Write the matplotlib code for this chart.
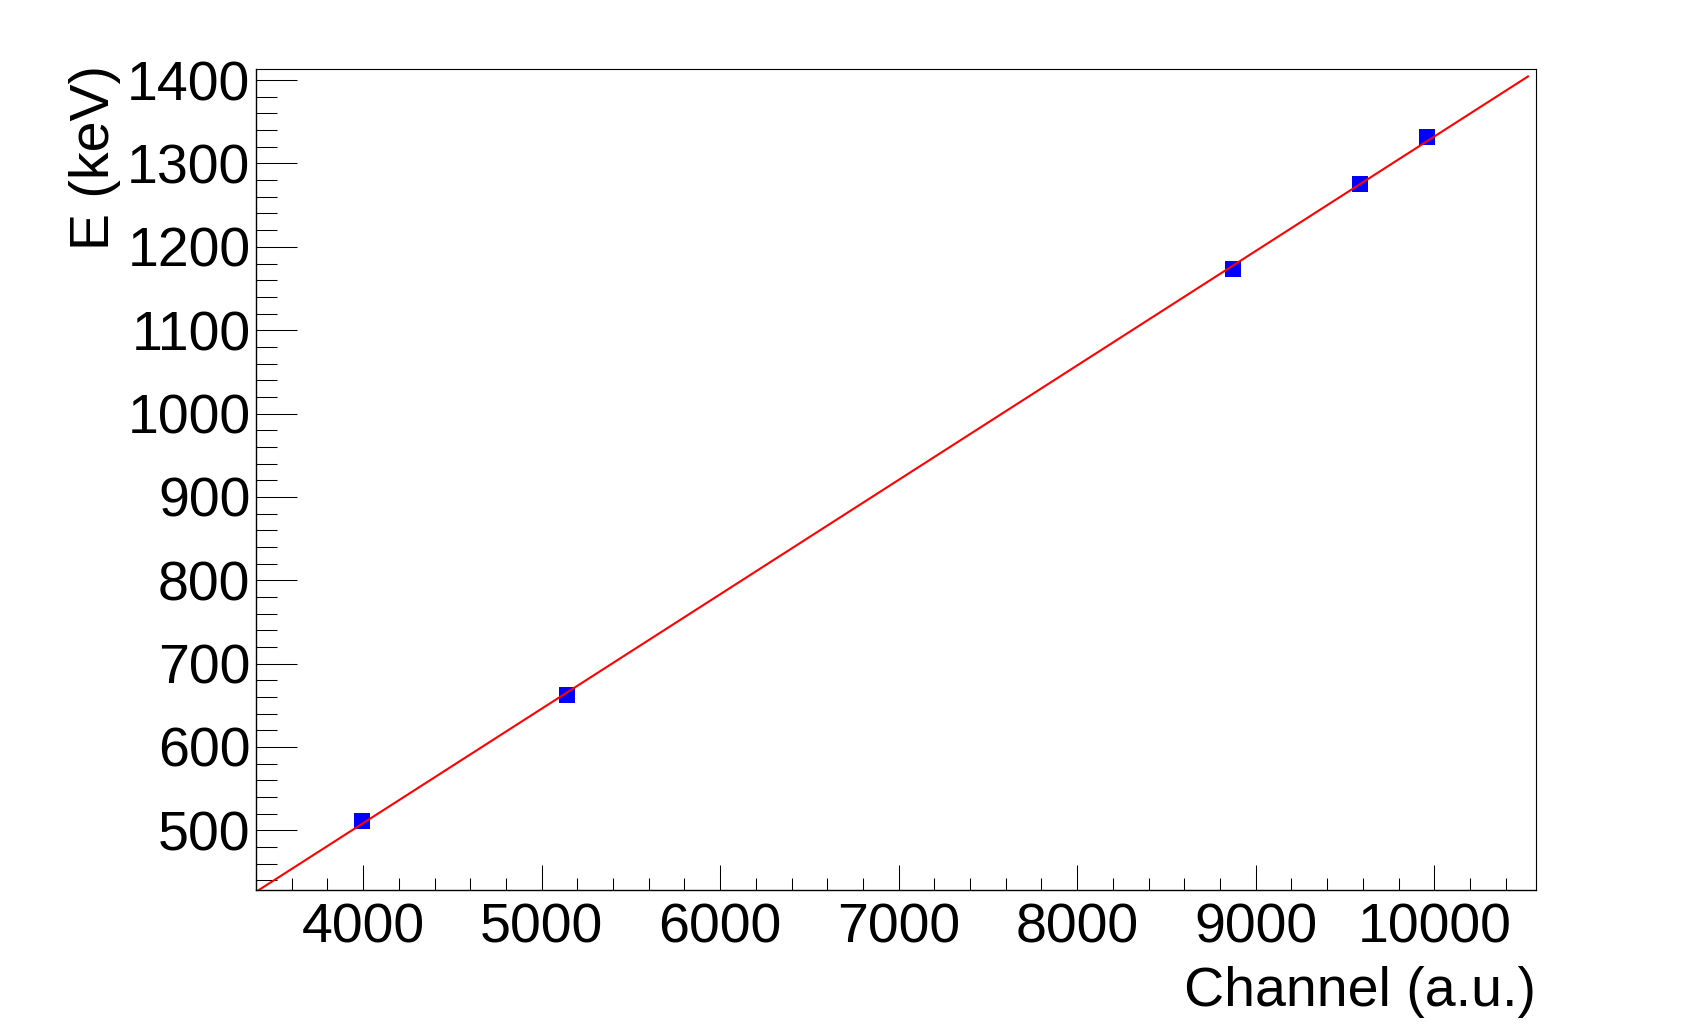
# Energy calibration: peak channel vs gamma energy with a linear fit

import numpy as np
import matplotlib.pyplot as plt
from matplotlib.ticker import MultipleLocator, AutoMinorLocator

plt.rcParams['font.family'] = ['Liberation Sans', 'DejaVu Sans']

## DATA ##########################
channel = [3993, 5140, 8875, 9586, 9961]      # peak position (a.u.)
energy = [511, 662, 1173, 1275, 1332]         # keV
x_ticks = [4000, 5000, 6000, 7000, 8000, 9000, 10000]
y_ticks = [500, 600, 700, 800, 900, 1000, 1100, 1200, 1300, 1400]
fit_range = [3300, 10525]
##################################

slope, intercept = np.polyfit(channel, energy, 1)
xfit = np.linspace(fit_range[0], fit_range[1], 200)

W, H = 1682, 1025
fig = plt.figure(figsize=(W / 100, H / 100), dpi=100)
ax = fig.add_axes([256 / W, 1 - 890.3 / H, (1536 - 256) / W, (890.3 - 69.3) / H])

ax.plot(channel, energy, 's', color='blue', ms=11.5, mew=0, zorder=2)
ax.plot(xfit, slope * xfit + intercept, color='red', lw=1.5, zorder=3)

ax.set_xlim(3400, 10570)
ax.set_ylim(428, 1413)
ax.set_xticks(x_ticks)
ax.set_yticks(y_ticks)
ax.xaxis.set_minor_locator(AutoMinorLocator(5))
ax.yaxis.set_minor_locator(AutoMinorLocator(5))

ax.tick_params(which='both', direction='in', top=False, right=False,
               labelsize=40, width=0.75, color='black')
ax.tick_params(axis='x', which='major', length=17.8, pad=9)
ax.tick_params(axis='x', which='minor', length=8.9)
ax.tick_params(axis='y', which='major', length=29.3, pad=4)
ax.tick_params(axis='y', which='minor', length=14.9)

for side in ['top', 'right']:
    ax.spines[side].set_linewidth(0.8)
for side in ['left', 'bottom']:
    ax.spines[side].set_linewidth(1.0)

ax.set_xlabel('Channel (a.u.)', fontsize=40, loc='right', va='baseline')
ax.xaxis.set_label_coords(1.0, -0.1409)
ax.set_ylabel('E (keV)', fontsize=40, loc='top', va='baseline')
ax.yaxis.set_label_coords(-0.1152, 1.005)

fig.savefig('out.png', dpi=100)
